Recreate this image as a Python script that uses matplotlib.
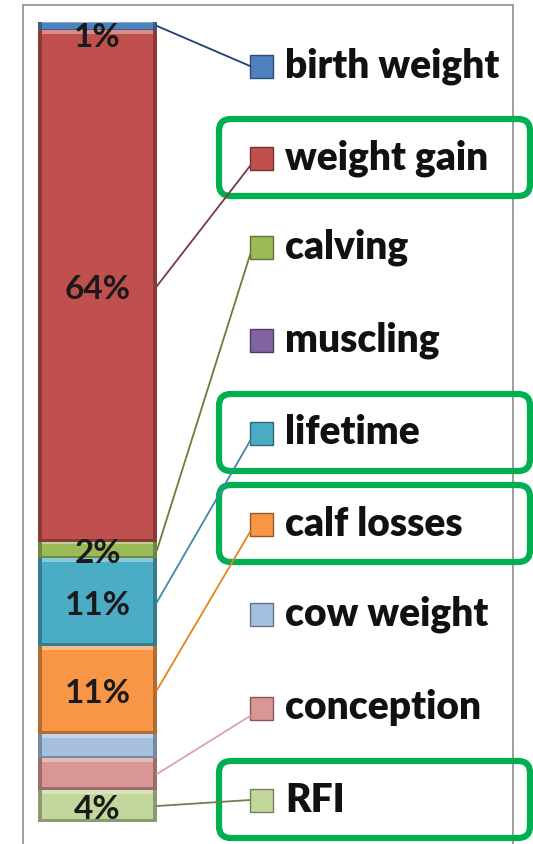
import matplotlib
matplotlib.use("Agg")
import matplotlib.pyplot as plt
import matplotlib.colors as mcolors
from matplotlib.patches import FancyBboxPatch, Rectangle

# Data (bottom to top of the stacked bar)
categories = ["RFI", "conception", "cow weight", "calf losses", "lifetime",
              "muscling", "calving", "weight gain", "birth weight"]
values = [4, 4, 3, 11, 11, 0, 2, 64, 1]
show_label = [True, False, False, True, True, False, True, True, True]
colors = ["#c3d69b", "#d99694", "#a5bfe0", "#f79646", "#4bacc6",
          "#8064a2", "#9bbb59", "#c0504d", "#4f81bd"]
line_colors = ["#6f7f4f", "#d9a3ac", None, "#e8821e", "#3f8aa6",
               None, "#6b7d3a", "#7a3a40", "#1f3f6f"]
highlight = ["weight gain", "lifetime", "calf losses", "RFI"]

W, H = 533, 844
fig = plt.figure(figsize=(W / 100, H / 100), dpi=100)
ax = fig.add_axes([0, 0, 1, 1])
# x in pixels, y in percent (0% at pixel 822, 100% at pixel 22)
ax.set_xlim(0, W)
ax.set_ylim((822 - H) / 8, 822 / 8)
ax.axis("off")


def py(pix):
    return (822 - pix) / 8


def shade(c, f):
    r, g, b = mcolors.to_rgb(c)
    if f < 1:
        return (r * f, g * f, b * f)
    return (r + (1 - r) * (f - 1), g + (1 - g) * (f - 1), b + (1 - b) * (f - 1))


# chart frame
ax.add_patch(Rectangle((23, py(H + 5)), 513 - 23, py(5) - py(H + 5),
                       fill=False, edgecolor="#8c8c8c", lw=1.2))

bx, bw = 97.5, 119
bottom = 0
mids = []
for cat, v, c in zip(categories, values, colors):
    mids.append(bottom + v / 2)
    if v > 0:
        ins = min(0.8, v / 4)
        ax.bar(bx, v, bottom=bottom, width=bw, color=shade(c, 0.72), lw=0)
        ax.bar(bx, v - ins, bottom=bottom + ins * 0.4, width=bw - 8,
               color=c, lw=0)
        ax.bar(bx, ins * 0.6, bottom=bottom + v - ins * 0.6, width=bw - 8,
               color=shade(c, 1.35), lw=0)
    bottom += v

for v, m, lab in zip(values, mids, show_label):
    if lab:
        ax.text(bx, min(m - 0.4, 98.1), f"{v}%", ha="center", va="center",
                fontsize=24, fontweight="bold", family="Lato", color="#1a1a1a")

# legend (listed top to bottom)
row_y = [66, 158, 247, 340, 433, 524, 614, 708, 800]
sq = 23
for i, idx in enumerate(range(len(categories) - 1, -1, -1)):
    yp = row_y[i]
    c = colors[idx]
    ax.add_patch(Rectangle((250, py(yp + sq / 2)), sq, sq / 8,
                           facecolor=c, edgecolor=shade(c, 0.6), lw=1))
    ax.text(285, py(yp), categories[idx], ha="left", va="center",
            fontsize=28, fontweight="heavy", family="Lato", color="#111111")
    lc = line_colors[idx]
    if lc is not None and values[idx] > 0:
        # leader line from bar edge to legend marker
        end = py(yp + 8) if mids[idx] < py(yp) - 2 else py(yp)
        ax.plot([157, 250], [mids[idx], end], color=lc, lw=1.3)
    if categories[idx] in highlight:
        ax.add_patch(FancyBboxPatch((219, py(yp + 38)), 311, 77 / 8,
                                    boxstyle="round,pad=0,rounding_size=12",
                                    mutation_aspect=1 / 8, fill=False,
                                    edgecolor="#00b050", lw=4.5))

fig.savefig("out.png", dpi=100)
